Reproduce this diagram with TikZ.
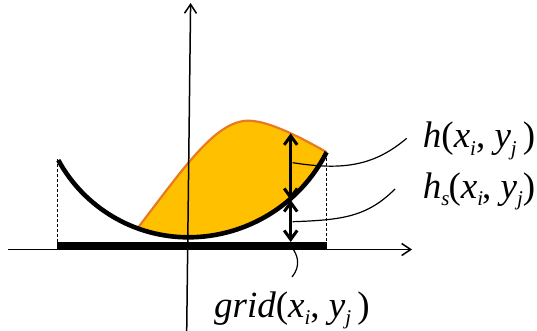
\documentclass[tikz,border=0pt]{standalone}
\usepackage{fontspec}
\setmainfont{Liberation Serif}
\newfontfamily\tms{Liberation Serif}
\usetikzlibrary{arrows.meta}
\definecolor{fillor}{HTML}{FFC000}
\definecolor{lineor}{HTML}{E97A1E}
\newcommand\lsub[1]{\raisebox{-0.2em}{\fontsize{21}{21}\selectfont\tms\itshape #1}}
\newcommand\lit[1]{{\tms\itshape #1}}
\tikzset{
  axis/.style={line width=1.5pt,-{Straight Barb[length=9pt,width=12pt,line width=1.5pt]}},
  dimarrow/.style={line width=3pt,{Straight Barb[length=9pt,width=13pt,line width=3pt]}-{Straight Barb[length=9pt,width=13pt,line width=3pt]}},
  leader/.style={line width=1.2pt},
  guide/.style={line width=0.9pt,dash pattern=on 3pt off 2pt},
  lbl/.style={inner sep=0pt,font=\tms\fontsize{37}{42}\selectfont}
}
\begin{document}
\begin{tikzpicture}[x=1pt,y=-1pt]
\useasboundingbox (0,0) rectangle (537,331);
% filled region
\fill[fillor] (137.5,228.3) .. controls (182.5,170) and (215,120.7) .. (248.3,120.7)
  .. controls (270,120.7) and (305,140) .. (326.7,152.2)
  arc[start angle=26.8,end angle=90,radius=155] arc[start angle=90,end angle=110.07,radius=148] -- cycle;
\draw[lineor,line width=2.2pt] (137.5,228.3) .. controls (182.5,170) and (215,120.7) .. (248.3,120.7)
  .. controls (270,120.7) and (305,140) .. (326.7,152.2);
% axes
\coordinate (xs) at (8,249.5);
\coordinate (xe) at (412,249.5);
\coordinate (ys) at (186.7,331);
\coordinate (ye) at (190.6,3);
\draw[axis] (xs) -- (xe);
\draw[axis] (ys) -- (ye);
% bar
\fill (57.3,241.7) rectangle (326.5,249.8);
% dashed guides
\coordinate (gl1) at (57.9,159); \coordinate (gl2) at (57.9,242);
\coordinate (gr1) at (326.7,153); \coordinate (gr2) at (326.7,242);
\draw[guide] (gl1) -- (gl2);
\draw[guide] (gr1) -- (gr2);
% bowl curve
\coordinate (bl) at (58.31,160.14);
\draw[line width=4.6pt] (bl) arc[start angle=151.4,end angle=90,radius=148] arc[start angle=90,end angle=26.8,radius=155];
% dimension arrows
\coordinate (atop) at (290.7,133.3);
\coordinate (amid) at (290.7,200);
\coordinate (abot) at (290.7,242);
\draw[dimarrow] (atop) -- (amid);
\draw[dimarrow] (amid) -- (abot);
% labels
\node[lbl,anchor=base east] (lh) at (535.5,148) {\lit{h}(\lit{x}\lsub{i}, \lit{y}\lsub{j}\,)};
\node[lbl,anchor=base east] (lhs) at (535.5,198.5) {\lit{h}\lsub{s}\hspace{-1pt}(\lit{x}\lsub{i}\hspace{-1pt}, \lit{y}\lsub{j})};
\node[lbl,anchor=base west] (lg) at (214,317) {\lit{grid}(\lit{x}\lsub{i}, \lit{y}\lsub{j}\,)};
% leaders
\coordinate (h1) at (292.7,162.7); \coordinate (h2) at (406.7,138.3);
\coordinate (s1) at (292.7,221.7); \coordinate (s2) at (395,189);
\coordinate (g1) at (291.5,247); \coordinate (g2) at (292,277);
\draw[leader] (h1) .. controls (345,171) and (375,165) .. (h2);
\draw[leader] (s1) .. controls (342,220) and (367,217) .. (s2);
\draw[leader] (g1) .. controls (298,255) and (301,266) .. (g2);
\end{tikzpicture}
\end{document}
